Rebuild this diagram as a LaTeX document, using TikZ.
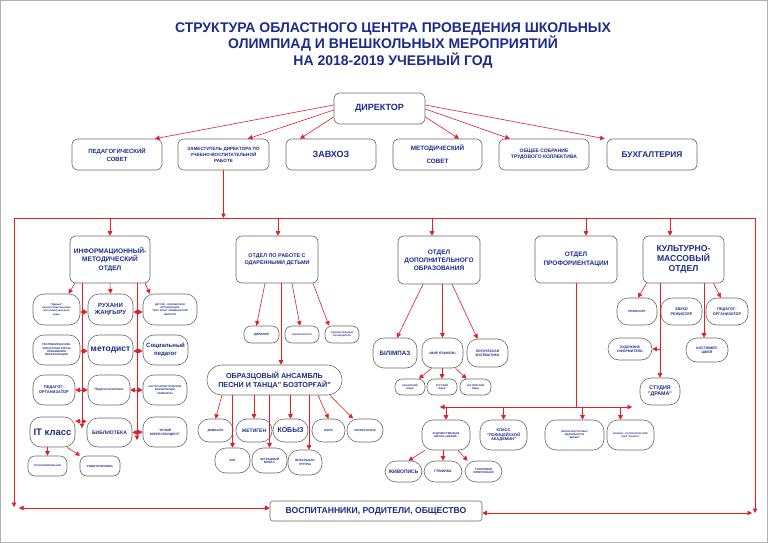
\documentclass[tikz,border=0pt]{standalone}
\usepackage{fontspec}
\setmainfont{Liberation Sans}
\usetikzlibrary{arrows.meta,calc}
\definecolor{tblue}{RGB}{28,44,138}
\definecolor{ared}{RGB}{226,30,40}
\definecolor{bgray}{RGB}{105,105,110}
\newcommand\bx[7][]{\node[box,minimum width={#4-#2},minimum height={#5-#3},#1] (#6) at ({(#2+#4)/2},{(#3+#5)/2}) {#7};}
\tikzset{
 box/.style={draw=bgray, line width=0.6pt, fill=white, rounded corners=6pt, align=center, text=tblue, inner sep=0.5pt},
 fs/.style 2 args={font=\fontsize{#1}{#2}\selectfont\bfseries},
 pill/.style={rounded corners=11pt},
 pills/.style={rounded corners=7pt},
 arr/.style={draw=ared, line width=0.6pt, -{Triangle[length=4.5pt,width=4.5pt]}},
 darr/.style={draw=ared, line width=0.6pt, {Triangle[length=4.5pt,width=4.5pt]}-{Triangle[length=4.5pt,width=4.5pt]}},
 ln/.style={draw=ared, line width=0.6pt},
}
\begin{document}
\begin{tikzpicture}[x=1pt,y=-1pt]
\useasboundingbox (0,0) rectangle (768,543);
\fill[white] (0,0) rectangle (768,543);
\draw[gray!60, line width=1.4pt] (0.7,0.7) rectangle (767.3,542.3);

\node[fs={14}{16.8}, text=tblue, align=center] (title) at (393,45.5)
 {СТРУКТУРА ОБЛАСТНОГО ЦЕНТРА ПРОВЕДЕНИЯ ШКОЛЬНЫХ\\ОЛИМПИАД И ВНЕШКОЛЬНЫХ МЕРОПРИЯТИЙ\\НА 2018-2019 УЧЕБНЫЙ ГОД};

% top level
\bx[fs={9}{11}]{334}{93}{425}{124}{dir}{ДИРЕКТОР}
\bx[fs={6}{8}]{72}{139}{162}{170}{ped}{ПЕДАГОГИЧЕСКИЙ\\СОВЕТ}
\bx[fs={4.6}{6}]{178}{139}{269}{170}{zam}{ЗАМЕСТИТЕЛЬ ДИРЕКТОРА ПО\\УЧЕБНО-ВОСПИТАТЕЛЬНОЙ\\РАБОТЕ}
\bx[fs={9}{11}]{286}{139}{376}{170}{zav}{ЗАВХОЗ}
\bx[fs={6.3}{13}]{393}{139}{482}{170}{met}{МЕТОДИЧЕСКИЙ\\СОВЕТ}
\bx[fs={5}{6.5}]{499}{139}{589}{170}{obs}{ОБЩЕЕ СОБРАНИЕ\\ТРУДОВОГО КОЛЛЕКТИВА}
\bx[fs={8.3}{10}]{607}{139}{697}{170}{buh}{БУХГАЛТЕРИЯ}

\draw[arr] ([yshift=3.5]dir.west) -- ([xshift=38]ped.north);
\draw[arr] ([yshift=-1.5]dir.west) -- ([xshift=24.5]zam.north);
\draw[arr] ([yshift=-8.5]dir.west) -- ([xshift=-31]zav.north);
\draw[arr] ([yshift=-8.5]dir.east) -- ([xshift=21.5]met.north);
\draw[arr] ([yshift=-0.5]dir.east) -- ([xshift=11]obs.north west);
\draw[arr] ([yshift=3.5]dir.east) -- ([xshift=-2]buh.north west);

% distribution line
\coordinate (tl) at (14,218);
\coordinate (tr) at (755,218);
\coordinate (bl) at (14,507);
\coordinate (br) at (755,513);
\draw[arr] (zam.south) -- (zam.south |- tl);
\draw[ln] (tl) -- (tr);
\draw[arr] (tl) -- (bl);
\draw[arr] (tr) -- (br);

% departments
\bx[fs={6.6}{8.4}]{70}{236}{150}{283}{info}{ИНФОРМАЦИОННЫЙ-\\МЕТОДИЧЕСКИЙ\\ОТДЕЛ}
\bx[fs={5.4}{7}]{236}{236}{318}{283}{odar}{ОТДЕЛ ПО РАБОТЕ С\\ОДАРЕННЫМИ ДЕТЬМИ}
\bx[fs={6.5}{8}]{398}{236}{480}{284}{dop}{ОТДЕЛ\\ДОПОЛНИТЕЛЬНОГО\\ОБРАЗОВАНИЯ}
\bx[fs={6.5}{9}]{535}{236}{617}{283}{prof}{ОТДЕЛ\\ПРОФОРИЕНТАЦИИ}
\bx[fs={8.6}{10.2}]{643}{236}{724}{283}{kult}{КУЛЬТУРНО-\\МАССОВЫЙ\\ОТДЕЛ}

\coordinate (d1) at (110,218);
\coordinate (d2) at (278,218);
\coordinate (d3) at (432,218);
\coordinate (d4) at (586,218);
\coordinate (d5) at (670,218);
\draw[arr] (d1) -- (d1 |- info.north);
\draw[arr] (d2) -- (d2 |- odar.north);
\draw[arr] (d3) -- (d3 |- dop.north);
\draw[arr] (d4) -- (d4 |- prof.north);
\draw[arr] (d5) -- (d5 |- kult.north);

% info-method children
\bx[pill,fs={2.7}{3.3}]{33}{294}{80}{325}{darin}{\textquotedbl Дарын\textquotedbl\\научно-практические\\интеллектуальные\\игры}
\bx[pill,fs={6}{7.5}]{88}{294}{133}{325}{ruh}{РУХАНИ\\ЖАҢҒЫРУ}
\bx[pill,fs={2.5}{3.1}]{143}{294}{197}{325}{zhas}{ДЕТСКО - ЮНОШЕСКАЯ\\ОРГАНИЗАЦИЯ\\\textquotedbl ЖАС ҰЛАН\textquotedbl{} ЖАМБЫЛСКОЙ\\ОБЛАСТИ}
\bx[pill,fs={2.7}{3.3}]{33}{335}{80}{365}{kurs}{РЕСПУБЛИКАНСКИЕ,\\ОБЛАСТНЫЕ КУРСЫ\\ПОВЫШЕНИЯ\\КВАЛИФИКАЦИИ}
\bx[pill,fs={8.5}{10}]{88}{335}{133}{365}{metd}{методист}
\bx[pill,fs={6}{7.5}]{143}{335}{188}{365}{socp}{Социальный\\педагог}
\bx[pill,fs={4}{5}]{33}{375}{75}{405}{porg}{ПЕДАГОГ-\\ОРГАНИЗАТОР}
\bx[pill,fs={3.3}{4}]{88}{375}{130}{405}{psy}{Педагог-психолог}
\bx[pill,fs={2.6}{3.2}]{143}{375}{187}{405}{konf}{НАУЧНО-ПРАКТИЧЕСКИЕ\\КОНФЕРЕНЦИИ\\СЕМИНАРЫ}
\bx[pill,fs={9.5}{11}]{30}{417}{75}{447}{it}{IT класс}
\bx[pill,fs={5}{6}]{87}{418}{132}{447}{bibl}{БИБЛИОТЕКА}
\bx[pill,fs={3.2}{4}]{143}{417}{187}{447}{yun}{\textquotedbl ЮНЫЙ\\КОРРЕСПОНДЕНТ\textquotedbl}
\bx[pills,fs={2.4}{3}]{28}{456}{67}{476}{prog}{ПРОГРАММИРОВАНИЕ}
\bx[pills,fs={2.9}{3.5}]{80}{456}{120}{476}{robot}{РОБОТОТЕХНИКА}

\coordinate (v1) at (82,428);
\coordinate (v2) at (137,440);
\draw[arr] (v1 |- info.south) -- (v1);
\draw[arr] (v2 |- info.south) -- (v2);
\draw[arr] ([xshift=-35]info.south) -- ([xshift=12]darin.north);
\draw[arr] (info.south) -- (ruh.north);
\draw[arr] ([xshift=35]info.south) -- ([xshift=-20]zhas.north);
\draw[darr] ([yshift=-2.5]darin.east) -- ([yshift=-2.5]ruh.west);
\draw[darr] ([yshift=-2.5]ruh.east) -- ([yshift=-2.5]zhas.west);
\draw[darr] ([yshift=-1]kurs.east) -- ([yshift=-1]metd.west);
\draw[darr] ([yshift=-1]metd.east) -- ([yshift=-1]socp.west);
\draw[darr] (porg.east) -- (psy.west);
\draw[darr] (psy.east) -- (konf.west);
\draw[darr] ([yshift=11]it.east) -- ([yshift=11]bibl.west);
\draw[darr] (bibl.east) -- (yun.west);
\draw[arr] (prog.north |- it.south) -- (prog.north);
\draw[arr] ([xshift=14.5]it.south) -- ([xshift=-20]robot.north);

% gifted children dept
\bx[pills,fs={3}{3.6}]{244}{326}{279}{343}{dirj}{ДИРИЖЕР}
\bx[pills,fs={2.2}{2.8}]{285}{326}{319}{343}{akk}{АККОМПАНИАТОР}
\bx[pills,fs={2.2}{2.8}]{325}{326}{359}{343}{hud}{ХУДОЖЕСТВЕННЫЙ\\РУКОВОДИТЕЛЬ}
\bx[rounded corners=15pt,fs={7.2}{9}]{207}{365}{342}{395}{ens}{ОБРАЗЦОВЫЙ АНСАМБЛЬ\\ПЕСНИ И ТАНЦА\textquotedbl{} БОЗТОРҒАЙ\textquotedbl}
\draw[arr] ([xshift=-12]odar.south) -- ([xshift=-5]dirj.north);
\draw[arr] ([xshift=15]odar.south) -- ([xshift=-2]akk.north);
\draw[arr] ([xshift=36]odar.south) -- ([xshift=-13]hud.north);
\coordinate (v3) at (281,300);
\draw[arr] (v3 |- odar.south) -- (v3 |- ens.north);

\bx[pill,fs={3}{3.6}]{198}{419}{233}{442}{domb}{ДОМБЫРА}
\bx[pill,fs={5}{6}]{236}{419}{272}{442}{zhet}{ЖЕТИГЕН}
\bx[pill,fs={7}{8}]{273}{419}{308}{442}{kob}{КОБЫЗ}
\bx[pill,fs={3}{3.6}]{312}{419}{345}{442}{bali}{БАЛИ}
\bx[pill,fs={2.8}{3.4}]{347}{419}{383}{442}{hor}{ХОРЕОГРАФИЯ}
\bx[pill,fs={3}{3.6}]{215}{448}{250}{473}{hr}{ХОР}
\bx[pill,fs={3}{3.6}]{252}{448}{287}{473}{estr}{ЭСТРАДНЫЙ\\ВОКАЛ}
\bx[pill,fs={3}{3.6}]{288}{450}{322}{475}{vok}{ВОКАЛЬНАЯ\\ГРУППА}
\draw[arr] ([xshift=-52.5]ens.south) -- (domb.north);
\draw[arr] (hr.north |- ens.south) -- (hr.north);
\draw[arr] (zhet.north |- ens.south) -- (zhet.north);
\draw[arr] (estr.north |- ens.south) -- (estr.north);
\draw[arr] (kob.north |- ens.south) -- (kob.north);
\draw[arr] ([xshift=4]vok.north |- ens.south) -- ([xshift=4]vok.north);
\draw[arr] ([xshift=43.5]ens.south) -- (bali.north);
\draw[arr] ([xshift=55.5]ens.south) -- ([xshift=-12]hor.north);

% additional education
\bx[pill,fs={6.3}{7.5}]{373}{338}{417}{368}{bil}{БІЛІМПАЗ}
\bx[pill,fs={3.4}{4}]{422}{338}{463}{368}{mir}{«МИР ЯЗЫКОВ»}
\bx[pill,fs={3.4}{4.2}]{467}{339}{508}{367}{log}{ЛОГИЧЕСКАЯ\\МАТЕМАТИКА}
\bx[pills,fs={2.5}{3.1}]{395}{379}{425}{395}{kaz}{КАЗАХСКИЙ\\ЯЗЫК}
\bx[pills,fs={2.5}{3.1}]{427}{379}{457}{395}{rus}{РУССКИЙ\\ЯЗЫК}
\bx[pills,fs={2.5}{3.1}]{460}{379}{491}{395}{eng}{АНГЛИЙСКИЙ\\ЯЗЫК}
\draw[arr] ([xshift=-16]dop.south) -- ([xshift=2]bil.north);
\draw[arr] (mir.north |- dop.south) -- (mir.north);
\draw[arr] ([xshift=13]dop.south) -- ([xshift=-10]log.north);
\draw[arr] ([xshift=-11]mir.south) -- ([xshift=9]kaz.north);
\draw[arr] (rus.north |- mir.south) -- (rus.north);
\draw[arr] ([xshift=13]mir.south) -- ([xshift=-9]eng.north);

% career guidance
\coordinate (h1) at (440,407);
\coordinate (h2) at (632,407);
\draw[darr] (h1) -- (h2);
\draw[ln] (prof.south) -- (prof.south |- h1);
\bx[pill,fs={2.7}{3.3}]{422}{420}{470}{450}{mer}{ХУДОЖЕСТВЕННАЯ\\ШКОЛА «МЕРЕЙ»}
\bx[pill,fs={4}{4.8}]{480}{420}{527}{450}{pol}{КЛАСС\\\textquotedbl ПОЛИЦЕЙСКОЙ\\АКАДЕМИИ\textquotedbl}
\bx[pill,fs={2.5}{3.1}]{545}{420}{604}{450}{bar}{ШКОЛА ВОСТОЧНЫХ\\ЕДИНОБОРСТВ\\\textquotedbl БАРЫС\textquotedbl}
\bx[pill,fs={2.3}{2.9}]{607}{420}{654}{450}{zhy}{ВОЕННО - ПАТРИОТИЧЕСКИЙ\\КЛУБ \textquotedbl ЖЫЛАН\textquotedbl}
\draw[arr] (mer.north |- h1) -- (mer.north);
\draw[arr] (pol.north |- h1) -- (pol.north);
\draw[arr] ([xshift=8]bar.north |- h1) -- ([xshift=8]bar.north);
\draw[arr] ([xshift=-10]zhy.north |- h1) -- ([xshift=-10]zhy.north);
\bx[pill,fs={5}{6}]{385}{461}{422}{482}{zhiv}{ЖИВОПИСЬ}
\bx[pill,fs={3.6}{4.3}]{424}{461}{462}{482}{graf}{ГРАФИКА}
\bx[pill,fs={2.8}{3.4}]{465}{461}{502}{482}{stan}{СТАНКОВАЯ\\КОМПОЗИЦИЯ}
\draw[arr] ([xshift=-21]mer.south) -- ([xshift=5]zhiv.north);
\draw[arr] (graf.north |- mer.south) -- (graf.north);
\draw[arr] ([xshift=12]mer.south) -- ([xshift=-16]stan.north);

% cultural dept
\bx[pill,fs={3}{3.6}]{617}{298}{657}{325}{rez}{РЕЖИССЕР}
\bx[pill,fs={3.8}{4.6}]{661}{298}{702}{325}{zvu}{ЗВУКО\\РЕЖИССЕР}
\bx[pill,fs={3.8}{4.6}]{706}{298}{748}{325}{porg2}{ПЕДАГОГ-\\ОРГАНИЗАТОР}
\bx[pill,fs={3.5}{4.2}]{608}{338}{652}{360}{hdz}{ХУДОЖНИК\\ОФОРМИТЕЛЬ}
\bx[pill,fs={3.5}{4.2}]{686}{338}{728}{362}{kos}{КОСТЮМЕР,\\ШВЕЯ}
\bx[pill,fs={5.3}{6.3}]{640}{378}{680}{405}{dram}{СТУДИЯ\\\textquotedbl ДРАМА\textquotedbl}
\draw[arr] ([xshift=-37]kult.south) -- ([xshift=1]rez.north);
\draw[arr] ([xshift=30]kult.south) -- ([xshift=-6]porg2.north);
\draw[arr] (dram.north |- kult.south) -- (dram.north);
\draw[arr] (dram.north |- hdz.east) -- (hdz.east);
\coordinate (v5) at (704,300);
\draw[arr] (v5 |- kult.south) -- (v5 |- kos.north);

% bottom
\bx[rounded corners=3pt,fs={8.6}{10}]{270}{501}{482}{521}{vos}{ВОСПИТАННИКИ, РОДИТЕЛИ, ОБЩЕСТВО}
\coordinate (b1) at (19,508);
\coordinate (b2) at (752,513);
\draw[darr] (b1) -- ([yshift=3]vos.west);
\draw[darr] ([yshift=-2]vos.east) -- (b2);
\end{tikzpicture}
\end{document}
